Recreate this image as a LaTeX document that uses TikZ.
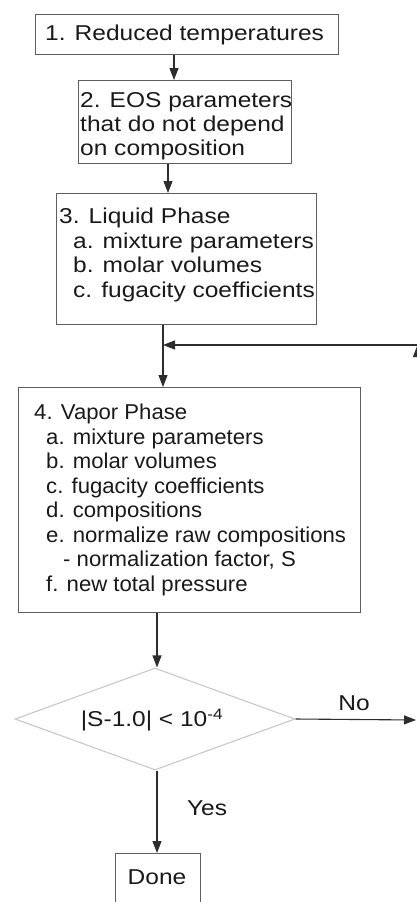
\documentclass[tikz,border=0pt]{standalone}
\usepackage{fontspec}
\setmainfont{Liberation Sans}[FakeStretch=1.14]
\newfontfamily\vapfont{Liberation Sans}[FakeStretch=1.03]
\usetikzlibrary{arrows.meta,shapes.geometric}
\definecolor{boxline}{RGB}{95,95,95}
\definecolor{arrline}{RGB}{45,45,45}
\definecolor{dialine}{RGB}{200,200,200}
\definecolor{txt}{RGB}{25,25,25}
\tikzset{
  flowbox/.style={draw=boxline,line width=1.1pt,inner sep=0pt,anchor=north west},
  boxtext/.style={anchor=north west,inner sep=0pt,align=left,text=txt,font=\fontsize{21.5}{24.5}\selectfont},
  vaptext/.style={anchor=north west,inner sep=0pt,align=left,text=txt,font=\vapfont\fontsize{21.5}{24.5}\selectfont},
  conn/.style={draw=arrline,line width=1.1pt,-{Triangle[length=12pt,width=9pt]}},
  lbl/.style={inner sep=0pt,text=txt,font=\fontsize{21.5}{24.5}\selectfont}
}
\begin{document}
\begin{tikzpicture}[x=1pt,y=-1pt]
\useasboundingbox (0,0) rectangle (417,902);
% boxes
\node[flowbox,minimum width=303pt,minimum height=40pt] (b1) at (35,14) {};
\node[flowbox,minimum width=213pt,minimum height=83pt] (b2) at (78,80) {};
\node[flowbox,minimum width=260pt,minimum height=131pt] (b3) at (56,193) {};
\node[flowbox,minimum width=342pt,minimum height=225pt] (b4) at (18,387) {};
\node[diamond,draw=dialine,line width=1.1pt,minimum width=280pt,minimum height=102pt,inner sep=0pt] (dec) at (155,719) {};
\node[flowbox,minimum width=85pt,minimum height=60pt] (done) at (115,853) {};
% texts
\node[boxtext] (t1) at (45,25) {1. Reduced temperatures};
\node[boxtext,font=\fontsize{21.5}{24}\selectfont] (t2) at (80,92) {2. EOS parameters\\that do not depend\\on composition};
\node[boxtext] (t3) at (59,208) {3. Liquid Phase\\\hspace*{14pt}a. mixture parameters\\\hspace*{14pt}b. molar volumes\\\hspace*{14pt}c. fugacity coefficients};
\node[vaptext] (t4) at (34,404) {4. Vapor Phase\\\hspace*{12pt}a. mixture parameters\\\hspace*{12pt}b. molar volumes\\\hspace*{12pt}c. fugacity coefficients\\\hspace*{12pt}d. compositions\\\hspace*{12pt}e. normalize raw compositions\\\hspace*{29pt}- normalization factor, S\\\hspace*{12pt}f. new total pressure};
\node[lbl] (tdec) at (152,720) {|S-1.0| < 10\textsuperscript{-4}};
\node[lbl] (tdone) at (157,877) {Done};
\node[lbl] (tno) at (354,703) {No};
\node[lbl] (tyes) at (207,808) {Yes};
% connector x positions
\coordinate (x1) at (174,0);
\coordinate (x2) at (168,0);
\coordinate (x3) at (163,0);
\coordinate (x4) at (157,0);
\coordinate (jn) at (163,345);
\coordinate (noend) at (416,720);
\coordinate (rb) at (417.5,720);
\coordinate (rt) at (417.5,345);
% connectors
\draw[conn] (b1.south -| x1) -- (b2.north -| x1);
\draw[conn] (b2.south -| x2) -- (b3.north -| x2);
\draw[conn] (b3.south -| x3) -- (b4.north -| x3);
\draw[conn] (b4.south -| x4) -- (dec.north -| x4);
\draw[conn] (dec.south -| x4) -- (done.north -| x4);
\draw[conn] (dec.east) -- (noend);
\draw[conn] (rb) -- (rt);
\draw[conn] (rt) -- (jn);
\end{tikzpicture}
\end{document}
